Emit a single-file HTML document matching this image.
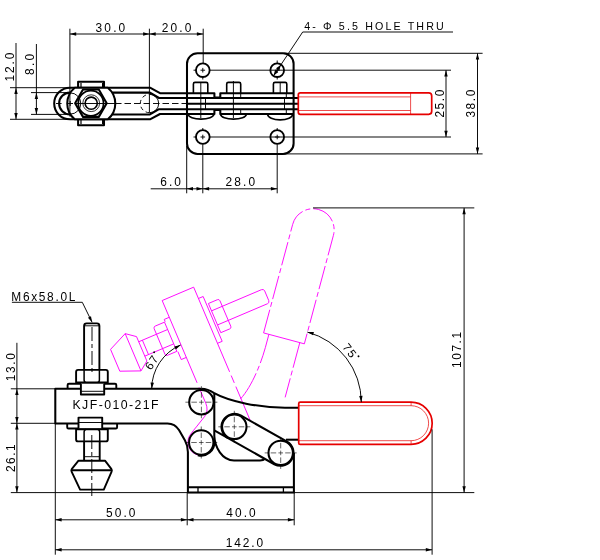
<!DOCTYPE html>
<html><head><meta charset="utf-8"><title>Toggle clamp drawing</title>
<style>
html,body{margin:0;padding:0;background:#fff;}
body{width:600px;height:560px;overflow:hidden;font-family:"Liberation Sans",sans-serif;}
svg{display:block;will-change:transform;}
</style></head><body>
<svg width="600" height="560" viewBox="0 0 600 560">
<rect x="0" y="0" width="600" height="560" fill="#fff"/>
<g fill="none" stroke="#000" stroke-width="2.05" stroke-linejoin="round" stroke-linecap="butt">
<path d="M187,93.2 L160,93.2 L150,87.7 L70,87.7 A15.8,15.8 0 0,0 70,119.3 L150,119.3 L160,114.0 L187,114.0"/>
<path d="M187,98.0 L159,98.0 L150,92.6 L70,92.6 A10.9,10.9 0 0,0 70,114.4 L150,114.4 L159,109.2 L187,109.2"/>
<path d="M74.75,87.7 A20.4,20.4 0 0,0 74.75,119.3 L107.8,119.3 A20.4,20.4 0 0,0 107.8,87.7 Z" fill="#fff"/>
<path d="M78.1,87.7 V81.8 H104 V87.7"/>
<path d="M78.1,119.3 V125.2 H104 V119.3"/>
<path d="M81,87.7 V83 M102.6,87.7 V83 M81,119.3 V124 M102.6,119.3 V124" stroke-width="1.2"/>
<polygon points="106.70,103.20 98.80,116.88 83.00,116.88 75.10,103.20 83.00,89.52 98.80,89.52" fill="#fff"/>
<circle cx="90.9" cy="103.2" r="12.6" stroke-width="1.7"/>
<circle cx="91.2" cy="103.2" r="8.4" stroke-width="0.8"/>
<circle cx="91.2" cy="103.2" r="6.1" stroke-width="1.6"/>
</g>
<g fill="none" stroke="#000" stroke-width="0.95">
<path d="M70.2,92.9 A10.6,10.6 0 0,1 70.2,114.1"/>
<line x1="56" y1="103.5" x2="61.6" y2="103.5" />
<line x1="67.5" y1="103.5" x2="73" y2="103.5" />
<line x1="75.4" y1="103.5" x2="115" y2="103.5" />
<line x1="70.2" y1="101.0" x2="70.2" y2="106.0" />
<line x1="115" y1="103.5" x2="187" y2="103.5" stroke-dasharray="6.5 3"/>
<path d="M149.5,94.3 A9.2,9.2 0 0,1 149.5,112.7"/>
<path d="M149.5,112.7 A9.2,9.2 0 0,1 149.5,94.3" stroke-dasharray="4 3"/>
</g>
<g fill="none" stroke="#000" stroke-width="2.05" stroke-linejoin="round">
<rect x="187" y="53.3" width="106.6" height="100.6" rx="10.5" ry="10.5"/>
<circle cx="202.8" cy="70.2" r="6.85" stroke-width="1.85"/>
<circle cx="277.2" cy="70.2" r="6.85" stroke-width="1.85"/>
<circle cx="202.8" cy="137" r="6.85" stroke-width="1.85"/>
<circle cx="277.2" cy="137" r="6.85" stroke-width="1.85"/>
<path d="M193.4,93.2 V84 Q193.4,82.4 195.0,82.4 H206.20000000000002 Q207.8,82.4 207.8,84 V93.2" stroke-width="1.6"/>
<path d="M226.7,93.2 V84 Q226.7,82.4 228.29999999999998,82.4 H239.1 Q240.7,82.4 240.7,84 V93.2" stroke-width="1.6"/>
<path d="M273.4,93.2 V84 Q273.4,82.4 275.0,82.4 H285.2 Q286.8,82.4 286.8,84 V93.2" stroke-width="1.6"/>
<path d="M187,93.2 H214.4 V97.6 H220.3 V93.2 H293"/>
<path d="M187,98.0 H298.3"/>
<path d="M187.6,103.7 H298.3"/>
<path d="M187,109.2 H298.3"/>
<path d="M187,114.0 H214.4 V110 H220.3 V114.0 H293"/>
<path d="M188.2,114.3 A12.8,4.9 0 0,0 213.8,114.3" stroke-width="1.7"/>
<path d="M220.6,114.3 A12.85,4.9 0 0,0 246.3,114.3" stroke-width="1.7"/>
<path d="M267.6,114.3 A12.55,5.6 0 0,0 292.7,114.3" stroke-width="1.7"/>
</g>
<g fill="none" stroke="#000" stroke-width="0.95">
<line x1="200.5" y1="70.2" x2="205.10000000000002" y2="70.2" />
<line x1="202.8" y1="67.9" x2="202.8" y2="72.5" />
<line x1="274.9" y1="70.2" x2="279.5" y2="70.2" />
<line x1="277.2" y1="67.9" x2="277.2" y2="72.5" />
<line x1="200.5" y1="137" x2="205.10000000000002" y2="137" />
<line x1="202.8" y1="134.7" x2="202.8" y2="139.3" />
<line x1="274.9" y1="137" x2="279.5" y2="137" />
<line x1="277.2" y1="134.7" x2="277.2" y2="139.3" />
<line x1="193.5" y1="70.2" x2="196.5" y2="70.2" />
<line x1="193.5" y1="137" x2="196.5" y2="137" />
<line x1="210" y1="70.2" x2="451" y2="70.2" />
<line x1="210" y1="137" x2="451" y2="137" />
<line x1="200.8" y1="82.4" x2="200.8" y2="118" />
<line x1="205.5" y1="98" x2="205.5" y2="109.2" />
<line x1="233.4" y1="81" x2="233.4" y2="118" />
<line x1="240.7" y1="93.2" x2="240.7" y2="98" />
<line x1="240.7" y1="109.2" x2="240.7" y2="114" />
<line x1="280.2" y1="82.4" x2="280.2" y2="93.2" />
<line x1="286.3" y1="93.2" x2="286.3" y2="98" />
<line x1="286.3" y1="109.2" x2="286.3" y2="114" />
<line x1="284.5" y1="98" x2="284.5" y2="109.2" />
<line x1="277.2" y1="60.5" x2="277.2" y2="64" />
<line x1="277.2" y1="76.5" x2="277.2" y2="79.5" />
<line x1="277.2" y1="128" x2="277.2" y2="131" />
<line x1="202.8" y1="128" x2="202.8" y2="131" />
<line x1="202.8" y1="76.5" x2="202.8" y2="79.5" />
</g>
<g fill="none" stroke="#e60000" stroke-width="1.7" stroke-linejoin="round">
<path d="M300.3,92.9 H428.7 Q431.7,92.9 431.7,95.9 V111.3 Q431.7,114.3 428.7,114.3 H300.3 Q298.3,114.3 298.3,112.3 V94.9 Q298.3,92.9 300.3,92.9 Z" fill="#fff"/>
<path d="M298.3,96.9 H410.6 M298.3,110.5 H410.6 M410.6,92.9 V114.3" stroke-width="0.7"/>
</g>
<g fill="none" stroke="#000" stroke-width="0.95">
<line x1="69.9" y1="34" x2="203.2" y2="34" />
<line x1="69.9" y1="28.7" x2="69.9" y2="116.5" />
<line x1="149.4" y1="28.7" x2="149.4" y2="112.7" />
<line x1="203.2" y1="28.7" x2="203.2" y2="63" />
<line x1="16" y1="43" x2="16" y2="119.3" />
<line x1="10" y1="87.7" x2="70" y2="87.7" />
<line x1="10" y1="119.3" x2="70" y2="119.3" />
<line x1="36.4" y1="44" x2="36.4" y2="114.4" />
<line x1="31" y1="92.6" x2="70" y2="92.6" />
<line x1="31" y1="114.4" x2="70" y2="114.4" />
<line x1="150.7" y1="188.8" x2="277.3" y2="188.8" />
<line x1="186.7" y1="146" x2="186.7" y2="193.3" />
<line x1="202.8" y1="144.3" x2="202.8" y2="193.3" />
<line x1="277.2" y1="144.3" x2="277.2" y2="193.3" />
<line x1="446" y1="70.2" x2="446" y2="137" />
<line x1="477.5" y1="53.3" x2="477.5" y2="153.9" />
<line x1="284" y1="53.3" x2="482.6" y2="53.3" />
<line x1="284" y1="153.9" x2="482.6" y2="153.9" />
<path d="M273.3,76.2 L302.7,32 H453"/>
</g>
<polygon points="69.90,34.00 76.20,32.30 76.20,35.70" fill="#000" stroke="none"/>
<polygon points="149.40,34.00 143.10,35.70 143.10,32.30" fill="#000" stroke="none"/>
<polygon points="149.40,34.00 155.70,32.30 155.70,35.70" fill="#000" stroke="none"/>
<polygon points="203.20,34.00 196.90,35.70 196.90,32.30" fill="#000" stroke="none"/>
<polygon points="16.00,87.70 17.70,94.00 14.30,94.00" fill="#000" stroke="none"/>
<polygon points="16.00,119.30 14.30,113.00 17.70,113.00" fill="#000" stroke="none"/>
<polygon points="36.40,92.60 38.10,98.90 34.70,98.90" fill="#000" stroke="none"/>
<polygon points="36.40,114.40 34.70,108.10 38.10,108.10" fill="#000" stroke="none"/>
<polygon points="186.70,188.80 193.00,187.10 193.00,190.50" fill="#000" stroke="none"/>
<polygon points="202.80,188.80 196.50,190.50 196.50,187.10" fill="#000" stroke="none"/>
<polygon points="202.80,188.80 209.10,187.10 209.10,190.50" fill="#000" stroke="none"/>
<polygon points="277.20,188.80 270.90,190.50 270.90,187.10" fill="#000" stroke="none"/>
<polygon points="446.00,70.20 447.70,76.50 444.30,76.50" fill="#000" stroke="none"/>
<polygon points="446.00,137.00 444.30,130.70 447.70,130.70" fill="#000" stroke="none"/>
<polygon points="477.50,53.30 479.20,59.60 475.80,59.60" fill="#000" stroke="none"/>
<polygon points="477.50,153.90 475.80,147.60 479.20,147.60" fill="#000" stroke="none"/>
<polygon points="280.86,64.70 279.34,70.42 276.17,68.32" fill="#000" stroke="none"/>
<polygon points="273.54,75.70 275.06,69.98 278.23,72.08" fill="#000" stroke="none"/>
<g fill="none" stroke="#ff00ff" stroke-width="0.85" stroke-linejoin="round" transform="rotate(67 201.25 442.5)">
<path d="M201.3,388.8 H55.3 V423 H167 Q174.5,423 178.5,429 L184.5,440 Q187,445 190.4,450.6 A13.3,13.3 0 0,0 212.8,448.3" stroke-dasharray="38 4 8 4 215.6 5 1000"/><path d="M84.1,369.9 V327.4 Q84.1,324.9 86.6,324.9 H96.9 Q99.4,324.9 99.4,327.4 V369.9"/><path d="M76.1,381.6 V371.9 Q76.1,369.9 78.1,369.9 H105.8 Q107.8,369.9 107.8,371.9 V381.6 Z M84.1,369.9 V381.6 M99.4,369.9 V381.6"/><path d="M67.6,388.8 V383.7 H116.3 V388.8"/><path d="M108.5,428.5 H117.1 V423 M76,428.5 H73.5 V423"/><path d="M76.1,429.3 V439.4 Q76.1,441.4 78.1,441.4 H105.8 Q107.8,441.4 107.8,439.4 V429.3 Z M84.1,429.3 V441.4 M99.7,429.3 V441.4"/><path d="M84.1,441.4 V460.7 M99.7,441.4 V460.7 M84.1,456.7 H99.7"/><path d="M78.5,460.7 H105 L111.8,470 L103.8,489.6 H80.1 L71.3,470 Z M71.3,470 H111.8"/>
</g>
<g fill="none" stroke="#ff00ff" stroke-width="0.85" stroke-linejoin="round" transform="translate(238.4 426.9) rotate(-75) translate(-201.4 -402.2)">
<path d="M298.7,402.2 H411.1 A21.1,21.1 0 0,1 411.1,444.4 H298.7" stroke-dasharray="24 3 5 3"/><path d="M298.7,402.2 V444.4"/>
<path d="M298.7,407.7 H285 C265,407.5 242,404 228,396.5" stroke-dasharray="30 3 5 3"/>
<path d="M298.7,439.7 H242" stroke-dasharray="26 3 5 3"/>
</g>
<g fill="none" stroke="#000" stroke-width="2.05" stroke-linejoin="round">
<path d="M201.3,388.8 H55.3 V423.4 H167.5 Q175,423.4 179,430 L185,440.6 Q187.7,445.2 187.9,452 V492.5"/>
<path d="M197.86,455.15 A13.1,13.1 0 0,0 214.30,441.36"/>
<path d="M201.3,388.8 Q208,389 213.75,392.9 C230,402 260,407.5 285,407.7 H298.7"/>
<path d="M286,439.7 H298.7"/>
<path d="M214.3,393.2 V436 C214.8,447 222,460.4 234,460.4 H260 Q263.5,460.4 265,458.8"/>
<path d="M240.67,415.47 L287.07,441.57 A13.0,13.0 0 0,1 274.33,464.23 L214.30,430.47"/>
<path d="M227.93,438.13 A13.0,13.0 0 0,1 240.67,415.47"/>
<path d="M293.9,453 V492.5"/>
<path d="M188.2,487.3 H293.9 M187.3,492.5 H294.8"/>
<path d="M198,487.3 V492.5 M283.4,487.3 V492.5" stroke-width="1.3"/>
<circle cx="201.4" cy="402.2" r="12.2"/>
<circle cx="201.25" cy="442.5" r="12.2"/>
<circle cx="234.3" cy="426.8" r="12.2"/>
<circle cx="280.7" cy="452.9" r="12.2"/>
</g>
<g fill="none" stroke="#000" stroke-width="0.6">
<line x1="185.4" y1="402.2" x2="217.4" y2="402.2" stroke-dasharray="3.5 2.5 5.5 2.2 4.6 2.2 5.5 2.5 3.5"/><line x1="201.4" y1="386.2" x2="201.4" y2="418.2" stroke-dasharray="3.5 2.5 5.5 2.2 4.6 2.2 5.5 2.5 3.5"/>
<line x1="185.25" y1="442.5" x2="217.25" y2="442.5" stroke-dasharray="3.5 2.5 5.5 2.2 4.6 2.2 5.5 2.5 3.5"/><line x1="201.25" y1="426.5" x2="201.25" y2="458.5" stroke-dasharray="3.5 2.5 5.5 2.2 4.6 2.2 5.5 2.5 3.5"/>
<line x1="218.3" y1="426.8" x2="250.3" y2="426.8" stroke-dasharray="3.5 2.5 5.5 2.2 4.6 2.2 5.5 2.5 3.5"/><line x1="234.3" y1="410.8" x2="234.3" y2="442.8" stroke-dasharray="3.5 2.5 5.5 2.2 4.6 2.2 5.5 2.5 3.5"/>
<line x1="264.7" y1="452.9" x2="296.7" y2="452.9" stroke-dasharray="3.5 2.5 5.5 2.2 4.6 2.2 5.5 2.5 3.5"/><line x1="280.7" y1="436.9" x2="280.7" y2="468.9" stroke-dasharray="3.5 2.5 5.5 2.2 4.6 2.2 5.5 2.5 3.5"/>
</g>
<g fill="none" stroke="#000" stroke-width="1.9" stroke-linejoin="round">
<path d="M84.1,369.9 V325.9 Q84.1,323.4 86.6,323.4 H96.9 Q99.4,323.4 99.4,325.9 V369.9"/>
<path d="M76.1,382.4 V371.9 Q76.1,369.9 78.1,369.9 H105.8 Q107.8,369.9 107.8,371.9 V382.4 Z"/>
<path d="M84.1,369.9 V380 Q84.1,382.4 86,382.4 M99.4,369.9 V380 Q99.4,382.4 97.5,382.4" stroke-width="1.5"/>
<path d="M67.6,388.8 V385 Q67.6,383.7 69,383.7 H115 Q116.3,383.7 116.3,385 V388.8"/>
<path d="M80.9,383.7 V394.5 H104.2 V383.7" fill="#fff"/>
<path d="M67.2,423 V427.2 Q67.2,428.5 68.5,428.5 H115.8 Q117.1,428.5 117.1,427.2 V423"/>
<path d="M78.5,428.5 V417.6 H102.2 V428.5" fill="#fff"/>
<path d="M76.1,429.3 V439.4 Q76.1,441.4 78.1,441.4 H105.8 Q107.8,441.4 107.8,439.4 V429.3 Z"/>
<path d="M84.1,441.4 V432 Q84.1,429.6 86,429.4 M99.7,441.4 V432 Q99.7,429.6 97.8,429.4" stroke-width="1.5"/>
<path d="M84.1,441.4 V460.7 M99.7,441.4 V460.7"/>
<path d="M78.5,460.7 H105 L111.3,468.8 Q112.3,470.2 111.6,471.6 L103.8,489.6 H80.1 L71.6,471.6 Q70.9,470.2 71.9,468.8 Z"/>
<path d="M71.3,470.2 H111.8"/>
</g>
<g fill="none" stroke="#000" stroke-width="0.95">
<line x1="84.1" y1="325.8" x2="99.4" y2="325.8" />
<line x1="80.9" y1="391.3" x2="104.2" y2="391.3" />
<line x1="78.5" y1="422.5" x2="102.2" y2="422.5" />
<line x1="84.1" y1="456.7" x2="99.7" y2="456.7" />
<line x1="92" y1="327" x2="92" y2="374" stroke-dasharray="14 3 4 3"/>
<line x1="91.8" y1="435" x2="91.8" y2="496" stroke-dasharray="14 3 4 3"/>
</g>
<g fill="none" stroke="#e60000" stroke-width="1.7" stroke-linejoin="round">
<path d="M300.2,402.2 H411.1 A21.1,21.1 0 0,1 411.1,444.4 H300.2 Q298.7,444.4 298.7,442.9 V403.7 Q298.7,402.2 300.2,402.2 Z" fill="#fff"/>
<path d="M298.7,405.7 H411.1 A17.5,17.5 0 0,1 411.1,440.7 H298.7 M411.1,402.2 V405.7 M411.1,440.7 V444.4" stroke-width="0.7"/>
</g>
<g fill="none" stroke="#000" stroke-width="0.95">
<line x1="16.9" y1="342.8" x2="16.9" y2="492.6" />
<line x1="10.8" y1="388.8" x2="55.3" y2="388.8" />
<line x1="10.8" y1="423.3" x2="55.3" y2="423.3" />
<line x1="10.8" y1="492.6" x2="474.3" y2="492.6" />
<line x1="55.3" y1="423.3" x2="55.3" y2="554.7" />
<line x1="187.2" y1="492.6" x2="187.2" y2="525.3" />
<line x1="294.2" y1="492.6" x2="294.2" y2="525.3" />
<line x1="55.3" y1="519.8" x2="294.2" y2="519.8" />
<line x1="55.3" y1="549.8" x2="432.1" y2="549.8" />
<line x1="432.1" y1="429.3" x2="432.1" y2="554.7" />
<line x1="464.1" y1="207.9" x2="464.1" y2="492.6" />
<line x1="313" y1="207.9" x2="474.3" y2="207.9" />
<path d="M11.9,302.3 H82.3 L92.1,322.3"/>
<path d="M151.7,388.8 A48,48 0 0,1 180.6,345"/>
<path d="M307.4,332.1 A72.7,72.7 0 0,1 361.3,402.2"/>
</g>
<polygon points="16.90,388.80 18.60,395.10 15.20,395.10" fill="#000" stroke="none"/>
<polygon points="16.90,423.30 15.20,417.00 18.60,417.00" fill="#000" stroke="none"/>
<polygon points="16.90,423.30 18.60,429.60 15.20,429.60" fill="#000" stroke="none"/>
<polygon points="16.90,492.60 15.20,486.30 18.60,486.30" fill="#000" stroke="none"/>
<polygon points="55.30,519.80 61.60,518.10 61.60,521.50" fill="#000" stroke="none"/>
<polygon points="187.20,519.80 180.90,521.50 180.90,518.10" fill="#000" stroke="none"/>
<polygon points="187.20,519.80 193.50,518.10 193.50,521.50" fill="#000" stroke="none"/>
<polygon points="294.20,519.80 287.90,521.50 287.90,518.10" fill="#000" stroke="none"/>
<polygon points="55.30,549.80 61.60,548.10 61.60,551.50" fill="#000" stroke="none"/>
<polygon points="432.10,549.80 425.80,551.50 425.80,548.10" fill="#000" stroke="none"/>
<polygon points="464.10,207.90 465.80,214.20 462.40,214.20" fill="#000" stroke="none"/>
<polygon points="464.10,492.60 462.40,486.30 465.80,486.30" fill="#000" stroke="none"/>
<polygon points="92.10,322.30 87.93,317.66 90.99,316.16" fill="#000" stroke="none"/>
<polygon points="151.70,388.80 150.56,382.38 153.94,382.67" fill="#000" stroke="none"/>
<polygon points="180.60,345.00 175.84,349.46 174.24,346.46" fill="#000" stroke="none"/>
<polygon points="307.40,332.10 313.93,332.09 313.05,335.37" fill="#000" stroke="none"/>
<polygon points="361.30,402.20 359.16,396.03 362.56,395.80" fill="#000" stroke="none"/>
<g font-family="'Liberation Sans', sans-serif" fill="#000" stroke="none">
<text x="110.4" y="31.9" font-size="11.9" text-anchor="middle" textLength="29.6" lengthAdjust="spacing">30.0</text>
<text x="176.6" y="31.9" font-size="11.9" text-anchor="middle" textLength="29.6" lengthAdjust="spacing">20.0</text>
<text x="374" y="29.5" font-size="10.7" text-anchor="middle" textLength="139.5" lengthAdjust="spacing">4- Φ 5.5 HOLE THRU</text>
<text x="170.6" y="185.9" font-size="11.9" text-anchor="middle" textLength="20.6" lengthAdjust="spacing">6.0</text>
<text x="240.4" y="185.9" font-size="11.9" text-anchor="middle" textLength="29.6" lengthAdjust="spacing">28.0</text>
<text x="13.6" y="67" font-size="11.9" text-anchor="middle" textLength="29" lengthAdjust="spacing" transform="rotate(-90 13.6 67)">12.0</text>
<text x="34" y="64.4" font-size="11.9" text-anchor="middle" textLength="21" lengthAdjust="spacing" transform="rotate(-90 34 64.4)">8.0</text>
<text x="444.3" y="103.6" font-size="11.9" text-anchor="middle" textLength="28" lengthAdjust="spacing" transform="rotate(-90 444.3 103.6)">25.0</text>
<text x="475.5" y="103.6" font-size="11.9" text-anchor="middle" textLength="28" lengthAdjust="spacing" transform="rotate(-90 475.5 103.6)">38.0</text>
<text x="43.3" y="300.6" font-size="11.9" text-anchor="middle" textLength="64" lengthAdjust="spacing">M6x58.0L</text>
<text x="14.7" y="367.2" font-size="11.9" text-anchor="middle" textLength="28" lengthAdjust="spacing" transform="rotate(-90 14.7 367.2)">13.0</text>
<text x="14.7" y="458.2" font-size="11.9" text-anchor="middle" textLength="27.5" lengthAdjust="spacing" transform="rotate(-90 14.7 458.2)">26.1</text>
<text x="115.5" y="409.4" font-size="12.3" text-anchor="middle" textLength="86" lengthAdjust="spacing">KJF-010-21F</text>
<text x="120.7" y="517.4" font-size="11.9" text-anchor="middle" textLength="29.4" lengthAdjust="spacing">50.0</text>
<text x="241" y="517.4" font-size="11.9" text-anchor="middle" textLength="29.4" lengthAdjust="spacing">40.0</text>
<text x="244.4" y="546.9" font-size="11.9" text-anchor="middle" textLength="37.4" lengthAdjust="spacing">142.0</text>
<text x="461.4" y="349.9" font-size="11.9" text-anchor="middle" textLength="36" lengthAdjust="spacing" transform="rotate(-90 461.4 349.9)">107.1</text>
<g transform="translate(152.0 361.2) rotate(-56.5)"><text x="-0.8" y="4.3" font-size="11.6" text-anchor="middle" letter-spacing="1.3">67</text><circle cx="8.7" cy="-3.2" r="0.95"/></g>
<g transform="translate(350.7 351.4) rotate(52.5)"><text x="-0.8" y="4.3" font-size="11.6" text-anchor="middle" letter-spacing="1.3">75</text><circle cx="8.7" cy="-3.2" r="0.95"/></g>
</g>
</svg>
</body></html>
